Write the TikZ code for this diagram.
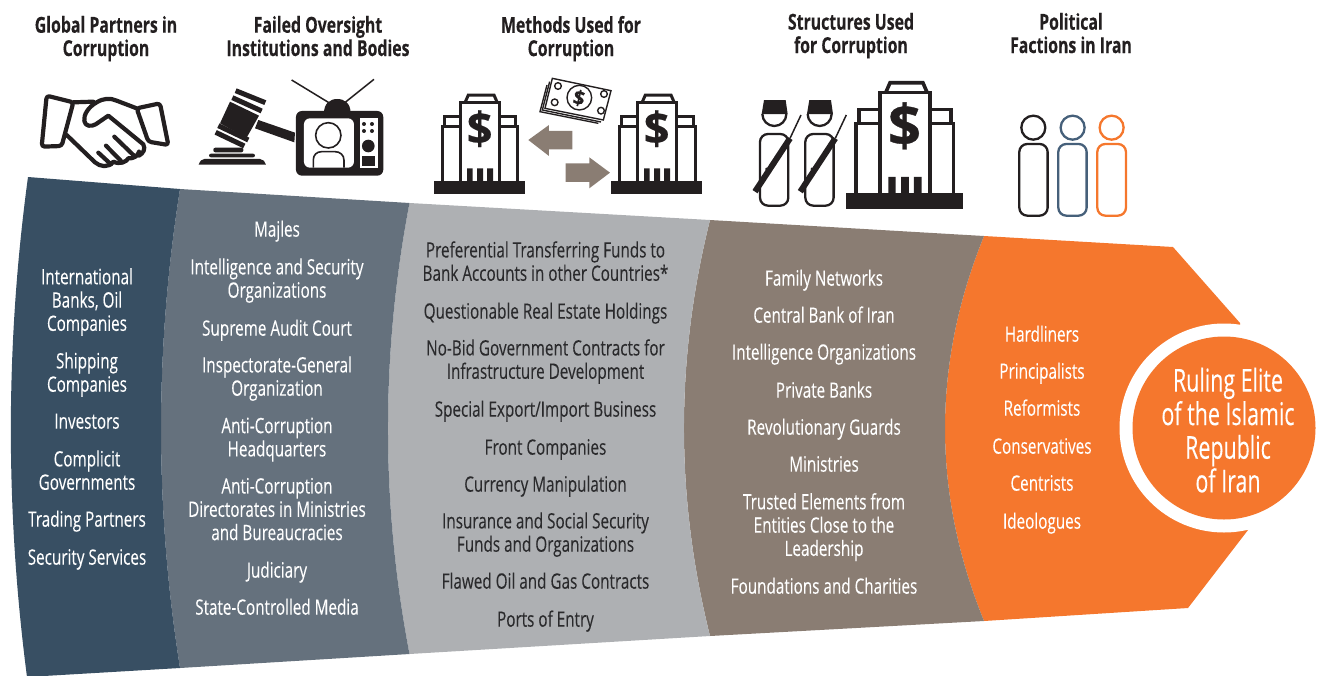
\documentclass[tikz,border=0pt]{standalone}
\usepackage{fontspec}
\setmainfont[FakeStretch=0.72,FakeBold=0.12]{Open Sans}
\newfontfamily\headfont[FakeStretch=0.72,FakeBold=0.25]{Open Sans Bold}
\newfontfamily\rulingfont[FakeStretch=0.68,FakeBold=0.1]{Open Sans}
\newfontfamily\signfont[FakeBold=0.6]{Open Sans Bold}
\definecolor{inkblk}{HTML}{231F20}
\definecolor{navyband}{HTML}{384F63}
\definecolor{slateband}{HTML}{65717D}
\definecolor{greyband}{HTML}{AEB0B3}
\definecolor{brownband}{HTML}{8A7D73}
\definecolor{orangeband}{HTML}{F5772D}
\definecolor{textdark}{HTML}{2A2A2C}
\definecolor{bluefig}{HTML}{46607A}
\tikzset{
  lbl/.style={align=center,inner sep=0pt,anchor=center,yshift=-3pt,font=\fontsize{21.2}{23.3}\selectfont,
    execute at begin node=\strut,execute at end node=\strut},
  lblw/.style={lbl,text=white},
  lbld/.style={lbl,text=textdark},
  headlbl/.style={align=center,inner sep=0pt,anchor=center,yshift=-3pt,text=inkblk,
    font=\fontsize{22}{23.3}\selectfont\headfont,
    execute at begin node=\strut,execute at end node=\strut},
  rulingtxt/.style={align=center,inner sep=0pt,anchor=center,yshift=-4pt,text=white,
    font=\fontsize{31.5}{33.6}\selectfont\rulingfont,
    execute at begin node=\strut,execute at end node=\strut},
  icon/.style={draw=inkblk,line width=4.2pt,line join=round,line cap=round},
  thinicon/.style={draw=inkblk,line width=1.4pt,line join=miter},
  bar/.style={draw=inkblk,line cap=butt},
  arrowshape/.style={fill=brownband},
  person/.style={line width=2.3pt,rounded corners=8pt},
  bank/.pic={
    \begin{scope}[x=.3333pt,y=-.3333pt]
      \fill[inkblk] (0,0) rectangle (273,38);
      \draw[draw=inkblk,line join=miter] (80,0) -- (80,-235) -- (196,-235) -- (196,0);
      \draw[draw=inkblk,line join=miter] (93,-235) -- (103,-258) -- (180,-258) -- (190,-235);
      \draw[draw=inkblk,line join=miter] (80,-195) -- (30,-195) -- (30,-163);
      \draw[draw=inkblk,line join=miter] (24,0) -- (24,-163) -- (80,-163);
      \draw[draw=inkblk,line join=miter] (196,-195) -- (246,-195) -- (246,-163);
      \draw[draw=inkblk,line join=miter] (252,0) -- (252,-163) -- (196,-163);
      \fill[inkblk] (99,-38) rectangle (116,0) (129,-38) rectangle (147,0) (159,-38) rectangle (177,0);
      \node[transform shape,inner sep=0pt,text=inkblk,font=\fontsize{45}{45}\selectfont\signfont] at (137,-157) {\$};
    \end{scope}
  },
  soldier/.pic={
    \begin{scope}[x=.3333pt,y=-.3333pt]
      \draw[draw=inkblk,line width=2.3pt,rounded corners=8pt] (45,132) rectangle (130,347);
      \draw[draw=inkblk,line width=2.3pt] (52,72) arc[start angle=180,end angle=360,x radius=36,y radius=-36];
      \fill[inkblk] (57,30) -- (122,30) -- (128,72) -- (50,72) -- cycle;
      \draw[draw=inkblk,line width=6pt,line cap=butt] (30,305) -- (135,145);
      \draw[draw=inkblk,line width=1.5pt] (135,145) -- (168,75);
      \draw[draw=inkblk,line width=2pt] (62,235) -- (72,242);
    \end{scope}
  }
}
\begin{document}
\begin{tikzpicture}[x=1pt,y=-1pt]
\useasboundingbox (0,0) rectangle (1319,675);
% bands
\fill[orangeband] (984,236) -- (1173,247) -- (1240,323) -- (1248,530) -- (1188,608) -- (984,621)
  .. controls (932,493) and (932,364) .. cycle;
\fill[brownband] (710,220) -- (984,236) .. controls (932,364) and (932,493) .. (984,621) -- (710,636)
  .. controls (675.3,497) and (675.3,359) .. cycle;
\fill[greyband] (409.5,203) -- (710,220) .. controls (675.3,359) and (675.3,497) .. (710,636) -- (409.5,654)
  .. controls (380.8,504) and (380.8,353) .. cycle;
\fill[slateband] (180,189) -- (409.5,203) .. controls (380.8,353) and (380.8,504) .. (409.5,654) -- (180,668)
  .. controls (154.7,508) and (154.7,349) .. cycle;
\fill[navyband] (28,177) -- (180,189) .. controls (154.7,349) and (154.7,508) .. (180,668) -- (27,677)
  .. controls (5.3,510) and (5.3,344) .. cycle;
% circle
\fill[white] (1224,428) circle[radius=104.5];
\fill[orangeband] (1224,428) circle[radius=91.5];
\node[rulingtxt] (ruling) at (1228,431) {Ruling Elite\\of the Islamic\\Republic\\of Iran};
% headers
\node[headlbl] (h1) at (106,36.5) {Global Partners in\\Corruption};
\node[headlbl] (h2) at (318,36.5) {Failed Oversight\\Institutions and Bodies};
\node[headlbl] (h3) at (571,36.5) {Methods Used for\\Corruption};
\node[headlbl] (h4) at (851,33.5) {Structures Used\\for Corruption};
\node[headlbl] (h5) at (1071,33.5) {Political\\Factions in Iran};
% column 1
\node[lblw] (a1) at (87,300) {International\\Banks, Oil\\Companies};
\node[lblw] (a2) at (87,372.5) {Shipping\\Companies};
\node[lblw] (a3) at (87,421) {Investors};
\node[lblw] (a4) at (87,470.5) {Complicit\\Governments};
\node[lblw] (a5) at (87,519) {Trading Partners};
\node[lblw] (a6) at (87,557) {Security Services};
% column 2
\node[lblw] (b1) at (277,229) {Majles};
\node[lblw] (b2) at (277,278.5) {Intelligence and Security\\Organizations};
\node[lblw] (b3) at (277,328) {Supreme Audit Court};
\node[lblw] (b4) at (277,376.5) {Inspectorate-General\\Organization};
\node[lblw] (b5) at (277,437.5) {Anti-Corruption\\Headquarters};
\node[lblw] (b6) at (277,509.5) {Anti-Corruption\\Directorates in Ministries\\and Bureaucracies};
\node[lblw] (b7) at (277,570) {Judiciary};
\node[lblw] (b8) at (277,607) {State-Controlled Media};
% column 3
\node[lbld] (c1) at (545.5,261.5) {Preferential Transferring Funds to\\Bank Accounts in other Countries*};
\node[lbld] (c2) at (545.5,311) {Questionable Real Estate Holdings};
\node[lbld] (c3) at (545.5,359.5) {No-Bid Government Contracts for\\Infrastructure Development};
\node[lbld] (c4) at (545.5,409) {Special Export/Import Business};
\node[lbld] (c5) at (545.5,447) {Front Companies};
\node[lbld] (c6) at (545.5,484) {Currency Manipulation};
\node[lbld] (c7) at (545.5,532.5) {Insurance and Social Security\\Funds and Organizations};
\node[lbld] (c8) at (545.5,581) {Flawed Oil and Gas Contracts};
\node[lbld] (c9) at (545.5,619) {Ports of Entry};
% column 4
\node[lblw] (d1) at (824,278) {Family Networks};
\node[lblw] (d2) at (824,315) {Central Bank of Iran};
\node[lblw] (d3) at (824,352) {Intelligence Organizations};
\node[lblw] (d4) at (824,390) {Private Banks};
\node[lblw] (d5) at (824,427) {Revolutionary Guards};
\node[lblw] (d6) at (824,464) {Ministries};
\node[lblw] (d7) at (824,525) {Trusted Elements from\\Entities Close to the\\Leadership};
\node[lblw] (d8) at (824,586) {Foundations and Charities};
% column 5
\node[lblw] (e1) at (1042,334) {Hardliners};
\node[lblw] (e2) at (1042,371) {Principalists};
\node[lblw] (e3) at (1042,408) {Reformists};
\node[lblw] (e4) at (1042,446) {Conservatives};
\node[lblw] (e5) at (1042,483) {Centrists};
\node[lblw] (e6) at (1042,521) {Ideologues};
% handshake
\begin{scope}[shift={(35,85)},x=.3333pt,y=-.3333pt]
  \draw[icon,rounded corners=3pt] (35,32) -- (115,52) -- (80,183) -- (20,185) -- cycle;
  \draw[icon,rounded corners=3pt] (305,70) -- (375,55) -- (400,180) -- (340,170) -- cycle;
  \draw[icon] (115,52) -- (175,50);
  \draw[icon] (305,70) -- (245,47) .. controls (225,38) and (205,40) .. (185,52)
    .. controls (160,66) and (145,90) .. (148,108) .. controls (150,125) and (170,125) .. (182,118)
    -- (220,92) -- (325,178) .. controls (332,192) and (325,205) .. (312,212);
  \draw[icon] (95,150) -- (180,232) .. controls (195,245) and (220,250) .. (235,230)
    .. controls (255,240) and (275,230) .. (280,220) .. controls (295,222) and (310,212) .. (312,200);
  \draw[icon] (238,155) -- (298,213);
  \draw[icon] (213,182) -- (262,232);
  \draw[icon] (190,203) -- (228,238);
\end{scope}
% gavel
\begin{scope}[shift={(195,85)},x=.3333pt,y=-.3333pt]
  \fill[inkblk] (105,50) -- (192,92) -- (155,158) -- (75,115) -- cycle;
  \fill[inkblk] (190,105) -- (300,143) -- (298,172) -- (180,130) -- cycle;
  \draw[bar,line width=5pt] (122,17) -- (211,53);
  \draw[bar,line width=5pt] (112,38) -- (200,78);
  \draw[bar,line width=5pt] (70,122) -- (160,165);
  \draw[bar,line width=5pt] (62,142) -- (148,183);
  \fill[inkblk,rounded corners=2pt] (55,188) rectangle (145,202);
  \fill[inkblk,rounded corners=2pt] (42,206) rectangle (180,217);
  \fill[inkblk] (11,239) .. controls (15,228) and (20,222) .. (28,222) -- (195,222) .. controls (205,222) and (210,230) .. (213,239) -- cycle;
\end{scope}
% television
\begin{scope}[shift={(0,60)},x=.3333pt,y=-.3333pt]
  \draw[draw=inkblk,line width=1.5pt] (875,60) -- (990,130);
  \draw[draw=inkblk,line width=1.5pt] (1122,58) -- (1032,130);
  \fill[inkblk] (972,160) .. controls (972,130) and (990,117) .. (1012,117) .. controls (1034,117) and (1052,130) .. (1052,160) -- cycle;
  \fill[inkblk,rounded corners=6pt] (888,153) rectangle (1150,347);
  \fill[white,rounded corners=6pt] (912,175) rectangle (1062,323);
  \fill[white] (1080,175) rectangle (1133,323);
  \fill[inkblk] (1092,192) circle[radius=6] (1116,192) circle[radius=6] (1092,213) circle[radius=6] (1116,213) circle[radius=6];
  \fill[inkblk] (1105,258) circle[radius=19];
  \fill[inkblk] (1087,288) rectangle (1126,318);
  \draw[draw=inkblk,line width=1.6pt] (985,226) circle[radius=38];
  \draw[draw=inkblk,line width=1.6pt] (940,323) -- (940,300) .. controls (940,285) and (950,275) .. (965,275) -- (1005,275) .. controls (1020,275) and (1032,285) .. (1032,300) -- (1032,323);
\end{scope}
% banks
\pic[line width=3pt] at (434,181) {bank};
\pic[line width=3pt] at (611,181) {bank};
\pic[scale=1.282,line width=3.6pt] at (846,193) {bank};
% money
\begin{scope}[shift={(535,70)},x=.3333pt,y=-.3333pt]
  \fill[white] (52,25) -- (228,62) -- (205,150) -- (30,115) -- cycle;
  \draw[thinicon] (52,25) -- (228,62) -- (205,150) -- (30,115) -- cycle;
  \draw[thinicon] (44,35) -- (22,120) -- (198,156);
  \draw[thinicon] (36,45) -- (15,125) -- (190,160);
  \draw[thinicon] (133,83) circle[radius=37];
  \foreach \cx/\cy in {69/48,207/72,59/97,198/122} \draw[thinicon] (\cx,\cy) circle[radius=10];
  \node[inner sep=0pt,rotate=-12,text=inkblk,font=\fontsize{20}{20}\selectfont\signfont] (moneysign) at (132,84) {\$};
\end{scope}
% arrows
\begin{scope}[shift={(420,60)},x=.3333pt,y=-.3333pt]
  \fill[arrowshape] (325,240) -- (387,195) -- (387,213) -- (457,213) -- (457,268) -- (387,268) -- (387,288) -- cycle;
  \fill[arrowshape] (570,338) -- (508,292) -- (508,310) -- (437,310) -- (437,366) -- (508,366) -- (508,385) -- cycle;
\end{scope}
% soldiers
\pic at (745,90) {soldier};
\pic at (790.3,90) {soldier};
% people
\begin{scope}[shift={(730,60)},x=.3333pt,y=-.3333pt]
  \draw[person,draw=inkblk] (868,252) rectangle (953,467);
  \draw[draw=inkblk,line width=2.3pt] (910,203) circle[radius=36];
  \draw[person,draw=bluefig] (985,252) rectangle (1070,467);
  \draw[draw=bluefig,line width=2.3pt] (1028,203) circle[radius=36];
  \draw[person,draw=orangeband] (1102,252) rectangle (1188,467);
  \draw[draw=orangeband,line width=2.3pt] (1145,203) circle[radius=36];
\end{scope}
\end{tikzpicture}
\end{document}
